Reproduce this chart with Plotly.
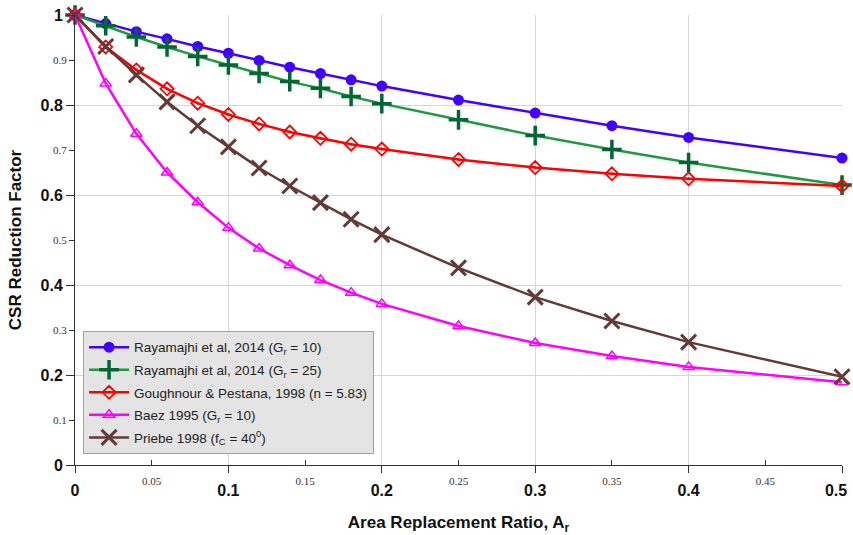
import plotly.graph_objects as go

ar = [0, 0.02, 0.04, 0.06, 0.08, 0.10, 0.12, 0.14, 0.16, 0.18, 0.20, 0.25, 0.30, 0.35, 0.40, 0.50]

rayamajhi_gr10 = [1.0, 0.981, 0.963, 0.947, 0.930, 0.915, 0.899, 0.884, 0.870, 0.856, 0.842, 0.811, 0.782, 0.754, 0.728, 0.682]
rayamajhi_gr25 = [1.0, 0.976, 0.951, 0.929, 0.908, 0.889, 0.870, 0.852, 0.837, 0.819, 0.803, 0.767, 0.732, 0.701, 0.672, 0.622]
goughnour = [1.0, 0.929, 0.878, 0.836, 0.804, 0.779, 0.758, 0.740, 0.726, 0.713, 0.702, 0.679, 0.661, 0.647, 0.636, 0.620]
baez = [1.0, 0.848, 0.736, 0.650, 0.584, 0.527, 0.481, 0.444, 0.411, 0.383, 0.358, 0.309, 0.271, 0.242, 0.218, 0.184]
priebe = [1.0, 0.930, 0.867, 0.807, 0.754, 0.707, 0.660, 0.620, 0.583, 0.546, 0.512, 0.438, 0.373, 0.320, 0.273, 0.196]

names = [
    "Rayamajhi et al, 2014 (G<sub>r</sub> = 10)",
    "Rayamajhi et al, 2014 (G<sub>r</sub> = 25)",
    "Goughnour & Pestana, 1998 (n = 5.83)",
    "Baez 1995 (G<sub>r</sub> = 10)",
    "Priebe 1998 (f<sub>C</sub> = 40<sup>0</sup>)",
]

x_major = [0, 0.1, 0.2, 0.3, 0.4, 0.5]
x_major_text = ["0", "0.1", "0.2", "0.3", "0.4", ""]
x_last = [0.5]
x_last_text = ["0.5"]
x_minor = [0.05, 0.15, 0.25, 0.35, 0.45]
x_minor_text = ["0.05", "0.15", "0.25", "0.35", "0.45"]
y_major = [0, 0.2, 0.4, 0.6, 0.8, 1.0]
y_major_text = ["0", "0.2", "0.4", "0.6", "0.8", "1"]
y_minor = [0.1, 0.3, 0.5, 0.7, 0.9]
y_minor_text = ["0.1", "0.3", "0.5", "0.7", "0.9"]

SANS = "Liberation Sans"
SERIF = "Liberation Serif"

fig = go.Figure()

fig.add_trace(go.Scatter(
    x=ar, y=rayamajhi_gr10, name=names[0], mode="lines+markers",
    line=dict(color="#4400FF", width=2.5),
    marker=dict(symbol="circle", size=11, color="#4400FF"),
    legendgroup="a", cliponaxis=False))
fig.add_trace(go.Scatter(
    x=ar, y=rayamajhi_gr25, name=names[1], mode="lines+markers",
    line=dict(color="#1F9A3C", width=2.5),
    marker=dict(symbol="cross-thin", size=14, color="#006633",
                line=dict(color="#006633", width=3.5)),
    legendgroup="b", cliponaxis=False))
fig.add_trace(go.Scatter(
    x=ar, y=goughnour, name=names[2], mode="lines+markers",
    line=dict(color="#FF0000", width=2.5),
    marker=dict(symbol="diamond-open-dot", size=10, color="#FF0000",
                line=dict(color="#FF0000", width=1.8)),
    legendgroup="c", cliponaxis=False))
fig.add_trace(go.Scatter(
    x=ar, y=baez, name=names[3], mode="lines+markers",
    line=dict(color="#FF00FF", width=2.5),
    marker=dict(symbol="triangle-up-open", size=10, color="#FF00FF",
                line=dict(color="#FF00FF", width=1.5)),
    legendgroup="d", cliponaxis=False))
fig.add_trace(go.Scatter(
    x=ar, y=priebe, name=names[4], mode="lines+markers",
    line=dict(color="#633A35", width=2.5),
    marker=dict(symbol="x-thin", size=15, color="#633A35",
                line=dict(color="#633A35", width=3)),
    legendgroup="e", cliponaxis=False))

fig.update_layout(
    width=853, height=535,
    margin=dict(l=75, r=11, t=15, b=70, autoexpand=False),
    paper_bgcolor="white", plot_bgcolor="white",
    font=dict(family=SANS, color="#111"),
    showlegend=True,
    legend=dict(
        x=0.0105, y=0.298, xanchor="left", yanchor="top",
        bgcolor="#E4E4E4", bordercolor="#A0A0A0", borderwidth=1,
        font=dict(family=SANS, size=13.5, color="#222"),
        tracegroupgap=2, traceorder="grouped", itemwidth=40,
    ),
    xaxis=dict(
        range=[0, 0.5], tickmode="array", tickvals=x_major, ticktext=x_major_text,
        tickfont=dict(family=SANS, size=16, weight="bold", color="#111"),
        ticks="outside", ticklen=7, tickcolor="#333", tickwidth=1, ticklabelstandoff=4,
        ticklabeloverflow="allow",
        showline=True, linecolor="#333", linewidth=1, automargin=False,
        showgrid=True, gridcolor="#D6D6D6", gridwidth=1, zeroline=False,
        title=dict(text="Area Replacement Ratio, A<sub>r</sub>",
                   font=dict(family=SANS, size=17, weight="bold", color="#111"),
                   standoff=19),
    ),
    xaxis2=dict(
        range=[0, 0.5], overlaying="x", anchor="y", side="bottom",
        tickmode="array", tickvals=x_minor, ticktext=x_minor_text,
        tickfont=dict(family=SERIF, size=11, color="#333"),
        ticks="inside", ticklen=5, tickcolor="#333", automargin=False, ticklabelstandoff=8,
        ticklabeloverflow="allow",
        showgrid=False, showline=False, zeroline=False,
    ),
    xaxis3=dict(
        range=[0, 0.5], overlaying="x", anchor="y", side="bottom",
        tickmode="array", tickvals=x_last, ticktext=x_last_text,
        tickfont=dict(family=SANS, size=16, weight="bold", color="#111"),
        ticks="outside", ticklen=7, tickcolor="rgba(0,0,0,0)", automargin=False,
        ticklabelstandoff=4, ticklabelshift=-6, ticklabeloverflow="allow",
        showgrid=False, showline=False, zeroline=False,
    ),
    yaxis=dict(
        range=[0, 1.0], tickmode="array", tickvals=y_major, ticktext=y_major_text,
        tickfont=dict(family=SANS, size=16, weight="bold", color="#111"),
        ticks="outside", ticklen=8, tickcolor="#333", ticklabeloverflow="allow",
        showline=True, linecolor="#333", linewidth=1, automargin=False,
        showgrid=True, gridcolor="#D6D6D6", gridwidth=1, zeroline=False,
        title=dict(text="CSR Reduction Factor",
                   font=dict(family=SANS, size=17, weight="bold", color="#111"),
                   standoff=14),
    ),
    yaxis2=dict(
        range=[0, 1.0], overlaying="y", anchor="x", side="left",
        tickmode="array", tickvals=y_minor, ticktext=y_minor_text,
        tickfont=dict(family=SERIF, size=11, color="#333"),
        ticks="outside", ticklen=5, tickcolor="#333", automargin=False,
        ticklabeloverflow="allow",
        showgrid=False, showline=False, zeroline=False,
    ),
)

fig.add_trace(go.Scatter(x=[], y=[], xaxis="x2", yaxis="y2", showlegend=False, hoverinfo="skip"))
fig.add_trace(go.Scatter(x=[], y=[], xaxis="x3", yaxis="y", showlegend=False, hoverinfo="skip"))

# remove the browser's default 8px body margin so the 853x535 figure fills the window exactly
fig.write_html("out.html", config={"displayModeBar": False},
               post_script="document.body.style.margin='0px';")
